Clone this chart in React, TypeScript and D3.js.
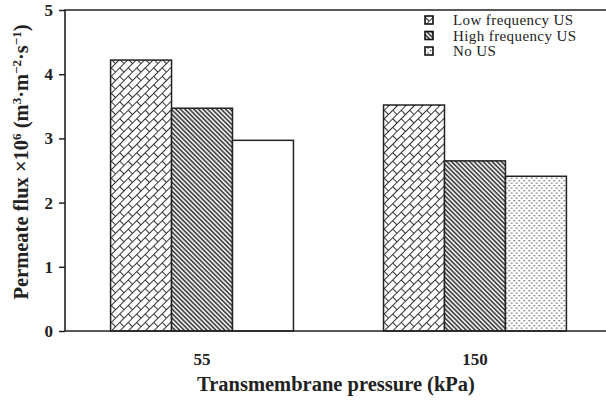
import React, { useEffect, useRef } from 'react';
import * as d3 from 'd3';

const pressures = ['55', '150'];
const seriesNames = ['Low frequency US', 'High frequency US', 'No US'];
const lowFreq = [4.22, 3.52];
const highFreq = [3.47, 2.65];
const noUS = [2.97, 2.41];
const yTicks = [0, 1, 2, 3, 4, 5];

const fills = ['url(#brick)', 'url(#hatch)', 'url(#dots)'];

const App = () => {
  const svgRef = useRef<SVGSVGElement>(null);

  useEffect(() => {
    const width = 606;
    const height = 402;
    const left = 65;
    const top = 10;
    const bottom = 331;
    const font = '"Liberation Serif", "Times New Roman", serif';

    const svg = d3.select(svgRef.current)
      .attr('width', width)
      .attr('height', height);
    svg.selectAll('*').remove();

    // patterns
    const defs = svg.append('defs');
    const brick = defs.append('pattern')
      .attr('id', 'brick')
      .attr('patternUnits', 'userSpaceOnUse')
      .attr('width', 12)
      .attr('height', 12)
      .attr('patternTransform', 'rotate(-45)');
    brick.append('rect').attr('width', 12).attr('height', 12).attr('fill', '#fff');
    brick.append('path')
      .attr('d', 'M0,0.5H12M0,6.5H12M0.5,0.5V6.5M6.5,6.5V12.5')
      .attr('stroke', '#333').attr('stroke-width', 1).attr('fill', 'none');

    const hatch = defs.append('pattern')
      .attr('id', 'hatch')
      .attr('patternUnits', 'userSpaceOnUse')
      .attr('width', 3.2)
      .attr('height', 6)
      .attr('patternTransform', 'rotate(-45)');
    hatch.append('rect').attr('width', 3.2).attr('height', 6).attr('fill', '#fff');
    hatch.append('line')
      .attr('x1', 1).attr('y1', 0).attr('x2', 1).attr('y2', 6)
      .attr('stroke', '#333').attr('stroke-width', 1.6);

    const dots = defs.append('pattern')
      .attr('id', 'dots')
      .attr('patternUnits', 'userSpaceOnUse')
      .attr('width', 5)
      .attr('height', 5);
    dots.append('rect').attr('width', 5).attr('height', 5).attr('fill', '#fff');
    dots.append('rect').attr('x', 0).attr('y', 0).attr('width', 1.3).attr('height', 1.3).attr('fill', '#555');
    dots.append('rect').attr('x', 2.5).attr('y', 2.5).attr('width', 1.3).attr('height', 1.3).attr('fill', '#555');

    const x0 = d3.scaleBand()
      .domain(pressures)
      .range([left, 612])
      .paddingInner(0.33)
      .paddingOuter(0.167);

    const x1 = d3.scaleBand()
      .domain(seriesNames)
      .range([0, x0.bandwidth()]);

    const y = d3.scaleLinear().domain([0, 5]).range([bottom, top]);

    const rows = pressures.map((p, i) => ({
      pressure: p,
      values: [lowFreq[i], highFreq[i], noUS[i]],
    }));

    // bars
    const groups = svg.selectAll('.group')
      .data(rows)
      .enter()
      .append('g')
      .attr('transform', (d) => `translate(${x0(d.pressure)},0)`);

    groups.selectAll('rect')
      .data((d, gi) => d.values.map((v, si) => ({ v, si, gi })))
      .enter()
      .append('rect')
      .attr('x', (d) => x1(seriesNames[d.si]) as number)
      .attr('y', (d) => y(d.v))
      .attr('width', x1.bandwidth())
      .attr('height', (d) => bottom - y(d.v))
      // the 55 kPa "No US" bar is printed without its dot fill in the source
      .attr('fill', (d) => (d.si === 2 && d.gi === 0 ? '#fff' : fills[d.si]))
      .attr('stroke', '#222')
      .attr('stroke-width', 1.5);

    // frame: left axis, top line, bottom axis
    svg.append('path')
      .attr('d', `M${width},${top}H${left}V${bottom}H${width}`)
      .attr('fill', 'none')
      .attr('stroke', '#222')
      .attr('stroke-width', 1.6);

    const yAxis = svg.append('g')
      .attr('transform', `translate(${left},0)`)
      .call(d3.axisLeft(y).tickValues(yTicks).tickSize(6).tickPadding(6).tickFormat(d3.format('d')));
    yAxis.select('.domain').remove();
    yAxis.selectAll('line').attr('stroke', '#222').attr('stroke-width', 1.5);
    yAxis.selectAll('text')
      .attr('font-family', font)
      .attr('font-size', 17)
      .attr('font-weight', 'bold')
      .attr('fill', '#222');

    // x labels
    svg.selectAll('.xlab')
      .data(pressures)
      .enter()
      .append('text')
      .attr('x', (d) => (x0(d) as number) + x0.bandwidth() / 2)
      .attr('y', 365)
      .attr('text-anchor', 'middle')
      .attr('font-family', font)
      .attr('font-size', 17)
      .attr('font-weight', 'bold')
      .attr('fill', '#222')
      .text((d) => d);

    svg.append('text')
      .attr('x', 336)
      .attr('y', 391)
      .attr('text-anchor', 'middle')
      .attr('font-family', font)
      .attr('font-size', 20.5)
      .attr('font-weight', 'bold')
      .attr('fill', '#222')
      .text('Transmembrane pressure (kPa)');

    // y title with superscripts
    const yt = svg.append('text')
      .attr('transform', 'translate(28,162) rotate(-90)')
      .attr('text-anchor', 'middle')
      .attr('font-family', font)
      .attr('font-size', 20.5)
      .attr('font-weight', 'bold')
      .attr('fill', '#222');
    const parts: [string, boolean][] = [
      ['Permeate flux \u00d710', false], ['6', true], [' (m', false], ['3', true],
      ['\u00b7m', false], ['\u22122', true], ['\u00b7s', false], ['\u22121', true], [')', false],
    ];
    parts.forEach(([t, sup]) => {
      yt.append('tspan')
        .attr('font-size', sup ? 13 : 20.5)
        .attr('baseline-shift', sup ? '55%' : null)
        .text(t);
    });

    // legend
    const legend = svg.append('g');
    seriesNames.forEach((name, i) => {
      const cy = 20 + i * 15.5;
      legend.append('rect')
        .attr('x', 425)
        .attr('y', cy - 4)
        .attr('width', 8)
        .attr('height', 8)
        .attr('fill', fills[i])
        .attr('stroke', '#111')
        .attr('stroke-width', 1.6);
      legend.append('text')
        .attr('x', 453)
        .attr('y', cy + 5)
        .attr('font-family', font)
        .attr('font-size', 15)
        .attr('letter-spacing', 0.4)
        .attr('fill', '#222')
        .text(name);
    });
  }, []);

  return (
    <svg ref={svgRef} style={{ position: 'absolute', left: 0, top: 0, background: '#fff' }}></svg>
  );
};

export default App;
